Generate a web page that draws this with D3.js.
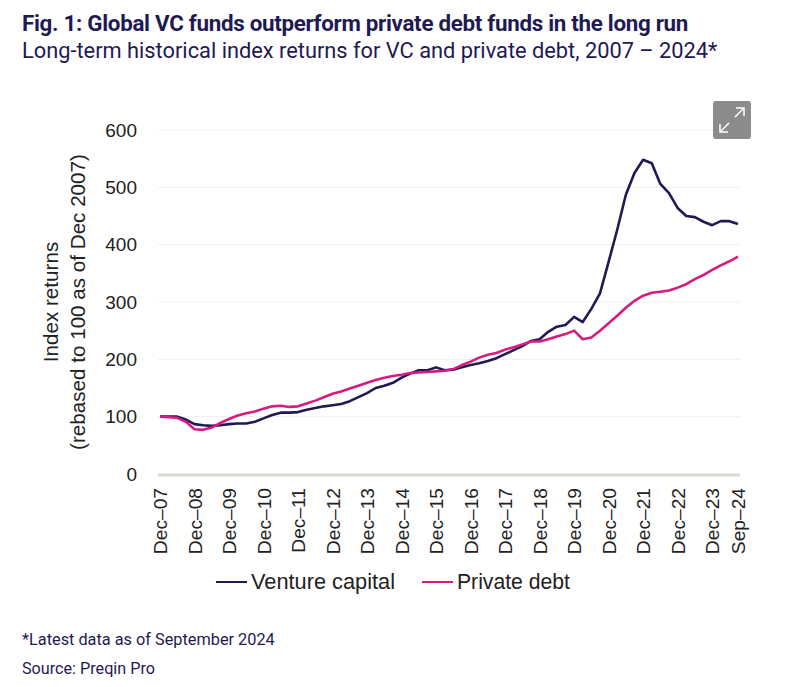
<!DOCTYPE html>
<html>
<head>
<meta charset="utf-8">
<script src="https://cdn.jsdelivr.net/npm/d3@7"></script>
<style>
  body { margin: 0; background: #fff; }
  svg { display: block; }
</style>
</head>
<body>
<svg id="chart" width="796" height="687"></svg>
<script>
// quarterly index values, Dec-07 .. Sep-24 (68 quarters)
const ventureCapital = [
  100, 100, 100, 95, 87, 85, 84, 85, 87, 88,
  88, 91, 97, 103, 107, 107, 108, 112, 115, 118,
  120, 122, 127, 134, 141, 150, 154, 159, 168, 175,
  181, 181, 186, 181, 182, 186, 190, 193, 197, 202,
  209, 216, 223, 232, 235, 248, 257, 260, 274, 265,
  288, 315, 370, 426, 487, 525, 548, 542, 506, 490,
  464, 450, 448, 440, 434, 441, 441, 436
];
const privateDebt = [
  100, 99, 98, 91, 78, 77, 81, 89, 96, 102,
  106, 109, 114, 118, 119, 117, 118, 123, 128, 134,
  140, 144, 149, 154, 159, 164, 168, 171, 173, 176,
  177, 178, 179, 180, 183, 190, 196, 203, 208, 211,
  217, 221, 226, 231, 231, 235, 240, 244, 250, 235,
  238, 250, 263, 276, 290, 302, 311, 316, 318, 320,
  325, 331, 340, 347, 356, 364, 371, 379
];
const tickIndex = [0, 4, 8, 12, 16, 20, 24, 28, 32, 36, 40, 44, 48, 52, 56, 60, 64, 67];
const tickLabels = ["Dec\u201307", "Dec\u201308", "Dec\u201309", "Dec\u201310", "Dec\u201311", "Dec\u201312",
  "Dec\u201313", "Dec\u201314", "Dec\u201315", "Dec\u201316", "Dec\u201317", "Dec\u201318", "Dec\u201319",
  "Dec\u201320", "Dec\u201321", "Dec\u201322", "Dec\u201323", "Sep\u201324"];
const yTicks = [0, 100, 200, 300, 400, 500, 600];
const seriesNames = ["Venture capital", "Private debt"];
const seriesColors = ["#1f1a52", "#d81b7f"];

const svg = d3.select("#chart");
const navy = "#1f1a52";
const axisFont = "'Liberation Sans', Arial, sans-serif";
const textFont = "Roboto, 'Noto Sans', sans-serif";

const x = d3.scaleLinear().domain([0, ventureCapital.length - 1]).range([160, 738]);
const y = d3.scaleLinear().domain([0, 600]).range([474, 130]);

// scale a text's font size so it spans the width seen in the reference
function fitText(sel, target) {
  let w = sel.node().getComputedTextLength();
  let fs = parseFloat(sel.attr("font-size"));
  sel.attr("font-size", (fs * target / w).toFixed(2));
}

let title = svg.append("text")
  .attr("x", 22).attr("y", 31)
  .attr("font-family", textFont).attr("font-weight", 700)
  .attr("font-size", 18).attr("fill", navy)
  .attr("letter-spacing", -0.3)
  .text("Fig. 1: Global VC funds outperform private debt funds in the long run");
fitText(title, 661);
let sub = svg.append("text")
  .attr("x", 22).attr("y", 58)
  .attr("font-family", textFont)
  .attr("font-size", 18).attr("fill", navy)
  .text("Long-term historical index returns for VC and private debt, 2007 \u2013 2024*");
fitText(sub, 696);

// gridlines
svg.append("g")
  .selectAll("line")
  .data(yTicks.filter(d => d > 0))
  .join("line")
  .attr("x1", 158).attr("x2", 740)
  .attr("y1", d => y(d)).attr("y2", d => y(d))
  .attr("stroke", "#efefef").attr("stroke-width", 1);

// y axis
let yAxis = svg.append("g")
  .attr("transform", "translate(158,0)")
  .call(d3.axisLeft(y).tickValues(yTicks).tickSize(0).tickPadding(21));
yAxis.select(".domain").remove();
yAxis.selectAll("text")
  .attr("font-family", axisFont).attr("font-size", 19).attr("fill", "#222");

// baseline
svg.append("line")
  .attr("x1", 158).attr("x2", 740)
  .attr("y1", y(0) + 1).attr("y2", y(0) + 1)
  .attr("stroke", "#dcd9d5").attr("stroke-width", 3);

// x axis
let xAxis = svg.append("g")
  .attr("transform", "translate(0," + (y(0) + 3) + ")")
  .call(d3.axisBottom(x).tickValues(tickIndex).tickFormat((d, i) => tickLabels[i]).tickSize(0));
xAxis.select(".domain").remove();
xAxis.selectAll("text")
  .attr("font-family", axisFont).attr("font-size", 19.2).attr("fill", "#222")
  .style("text-anchor", "end")
  .attr("transform", "rotate(-90)")
  .attr("x", -11).attr("y", 0).attr("dy", "0.35em");

// y axis title
let yTitle = svg.append("text")
  .attr("transform", "translate(58,302) rotate(-90)")
  .attr("text-anchor", "middle")
  .attr("font-family", axisFont).attr("font-size", 20).attr("fill", "#222");
yTitle.append("tspan").attr("x", 0).attr("dy", 0).text("Index returns");
let yTitle2 = yTitle.append("tspan").attr("x", 0).attr("dy", 27).text("(rebased to 100 as of Dec 2007)");
let t2w = yTitle2.node().getComputedTextLength();
yTitle.attr("font-size", (20 * 296 / t2w).toFixed(2));

// lines
const line = d3.line().x((d, i) => x(i)).y(d => y(d));
[ventureCapital, privateDebt].forEach((s, k) => {
  svg.append("path")
    .datum(s)
    .attr("fill", "none")
    .attr("stroke", seriesColors[k])
    .attr("stroke-width", 2.6)
    .attr("stroke-linejoin", "round")
    .attr("d", line);
});

// legend
const legendLineX = [216, 422];
const legendTextX = [251, 457];
const legendTextW = [144, 113];
seriesNames.forEach((name, k) => {
  svg.append("line")
    .attr("x1", legendLineX[k]).attr("x2", legendLineX[k] + 31)
    .attr("y1", 582).attr("y2", 582)
    .attr("stroke", seriesColors[k]).attr("stroke-width", 2);
  let t = svg.append("text")
    .attr("x", legendTextX[k]).attr("y", 589)
    .attr("font-family", axisFont).attr("font-size", 19).attr("fill", "#222")
    .text(name);
  fitText(t, legendTextW[k]);
});

// footnotes
let f1 = svg.append("text")
  .attr("x", 22).attr("y", 645)
  .attr("font-family", textFont).attr("font-size", 15).attr("fill", navy)
  .text("*Latest data as of September 2024");
fitText(f1, 253);
let f2 = svg.append("text")
  .attr("x", 22).attr("y", 674)
  .attr("font-family", textFont).attr("font-size", 15).attr("fill", navy)
  .text("Source: Preqin Pro");
fitText(f2, 133);

// expand button
let btn = svg.append("g").attr("transform", "translate(713,101)");
btn.append("rect").attr("width", 38).attr("height", 38).attr("rx", 3).attr("fill", "#8c8c8c");
btn.append("path")
  .attr("d", "M23,7 L31,7 L31,15 M31,7 L22,16 M7,23 L7,31 L15,31 M7,31 L16,22")
  .attr("fill", "none").attr("stroke", "#fff").attr("stroke-width", 1.5);
</script>
</body>
</html>
